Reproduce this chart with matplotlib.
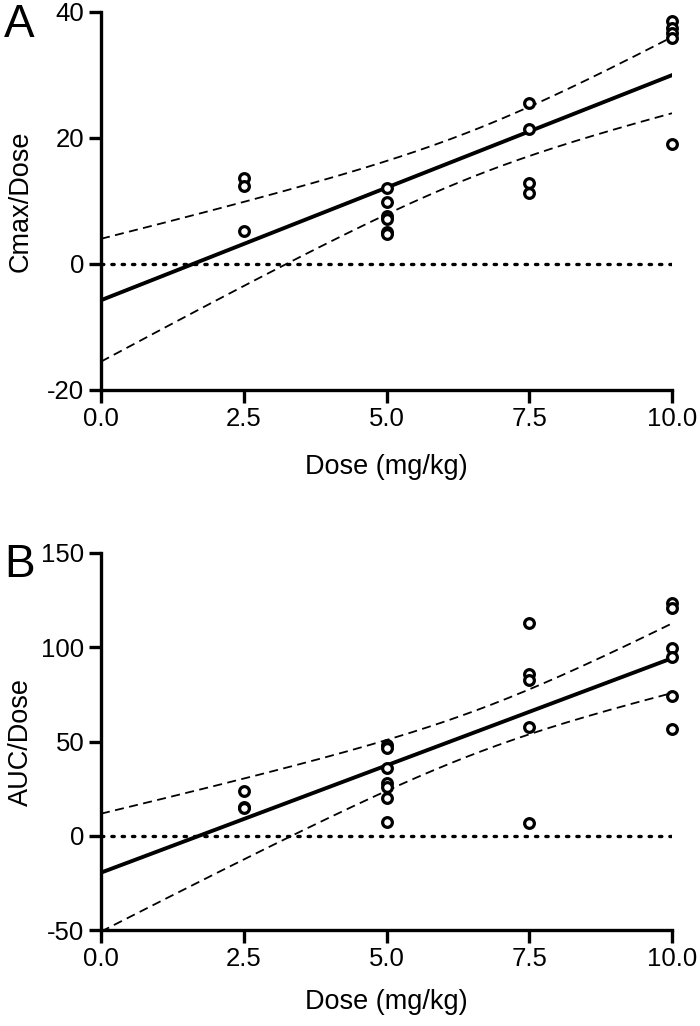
import numpy as np
import matplotlib
matplotlib.use("Agg")
import matplotlib.pyplot as plt

plt.rcParams['font.family'] = ['Liberation Sans', 'DejaVu Sans']

# ---- Data ----
dose_a = [2.5, 2.5, 2.5,
          5, 5, 5, 5, 5, 5,
          7.5, 7.5, 7.5, 7.5,
          10, 10, 10, 10, 10]
cmax_dose = [13.7, 12.4, 5.3,
             12.1, 9.9, 7.6, 7.1, 5.0, 4.7,
             25.5, 21.5, 12.9, 11.3,
             38.5, 37.4, 36.6, 35.8, 19.0]

dose_b = [2.5, 2.5, 2.5,
          5, 5, 5, 5, 5, 5, 5,
          7.5, 7.5, 7.5, 7.5, 7.5,
          10, 10, 10, 10, 10, 10]
auc_dose = [23.5, 15.5, 14.5,
            48.0, 46.5, 36.0, 28.0, 26.0, 20.0, 7.5,
            112.9, 85.9, 82.7, 57.8, 6.9,
            123.5, 120.8, 99.6, 94.9, 74.2, 56.7]

x_ticks = [0.0, 2.5, 5.0, 7.5, 10.0]
x_ticklabels = ["0.0", "2.5", "5.0", "7.5", "10.0"]
yticks_a = [-20, 0, 20, 40]
yticks_b = [-50, 0, 50, 100, 150]

# two-sided 95% t critical values by degrees of freedom
T975 = {14: 2.145, 15: 2.131, 16: 2.120, 17: 2.110, 18: 2.101, 19: 2.093, 20: 2.086, 21: 2.080}


def fit_with_ci(x, y, xs):
    x = np.asarray(x, float)
    y = np.asarray(y, float)
    n = len(x)
    slope, intercept = np.polyfit(x, y, 1)
    resid = y - (slope * x + intercept)
    s = np.sqrt(np.sum(resid ** 2) / (n - 2))
    sxx = np.sum((x - x.mean()) ** 2)
    t = T975[n - 2]
    yhat = slope * xs + intercept
    se = s * np.sqrt(1.0 / n + (xs - x.mean()) ** 2 / sxx)
    return yhat, yhat - t * se, yhat + t * se


fig = plt.figure(figsize=(7.0, 10.26), dpi=100)
W, H = 700.0, 1026.0
ax_a = fig.add_axes([101 / W, 1 - 390 / H, 571 / W, 378 / H])
ax_b = fig.add_axes([101 / W, 1 - 930 / H, 571 / W, 377 / H])

panels = [
    (ax_a, dose_a, cmax_dose, yticks_a, "Cmax/Dose", "A", 37, 17),
    (ax_b, dose_b, auc_dose, yticks_b, "AUC/Dose", "B", 577, 13),
]

xs = np.linspace(0, 10, 200)
for ax, xd, yd, yt, ylab, letter, base_px, xpad in panels:
    yhat, lo, hi = fit_with_ci(xd, yd, xs)
    ax.plot([0, 10], [0, 0], color='black', lw=2.4, linestyle=(0, (0.7, 2.4)),
            dash_capstyle='round')
    ax.plot(xs, yhat, color='black', lw=2.8)
    ax.plot(xs, lo, color='black', lw=1.3, linestyle=(0, (5, 3)))
    ax.plot(xs, hi, color='black', lw=1.3, linestyle=(0, (5, 3)))
    ax.plot(xd, yd, linestyle='none', marker='o', markersize=7,
            markerfacecolor='white', markeredgecolor='black', markeredgewidth=2.3,
            clip_on=False, zorder=5)

    ax.set_xlim(0, 10)
    ax.set_ylim(yt[0], yt[-1])
    ax.set_xticks(x_ticks)
    ax.set_xticklabels(x_ticklabels)
    ax.set_yticks(yt)
    ax.set_yticklabels([str(v) for v in yt])
    for side in ['top', 'right']:
        ax.spines[side].set_visible(False)
    for side in ['left', 'bottom']:
        ax.spines[side].set_linewidth(2.4)
    ax.tick_params(axis='both', which='major', length=9, width=2.4,
                   labelsize=18.5, direction='out', pad=3)
    ax.set_xlabel("Dose (mg/kg)", fontsize=19.5, labelpad=xpad)
    ax.set_ylabel(ylab, fontsize=19.5)
    ax.yaxis.set_label_coords((34 - 101) / 571, 0.5)
    fig.text(4 / W, 1 - base_px / H, letter, fontsize=33,
             ha='left', va='baseline')

fig.savefig("out.png", dpi=100)
